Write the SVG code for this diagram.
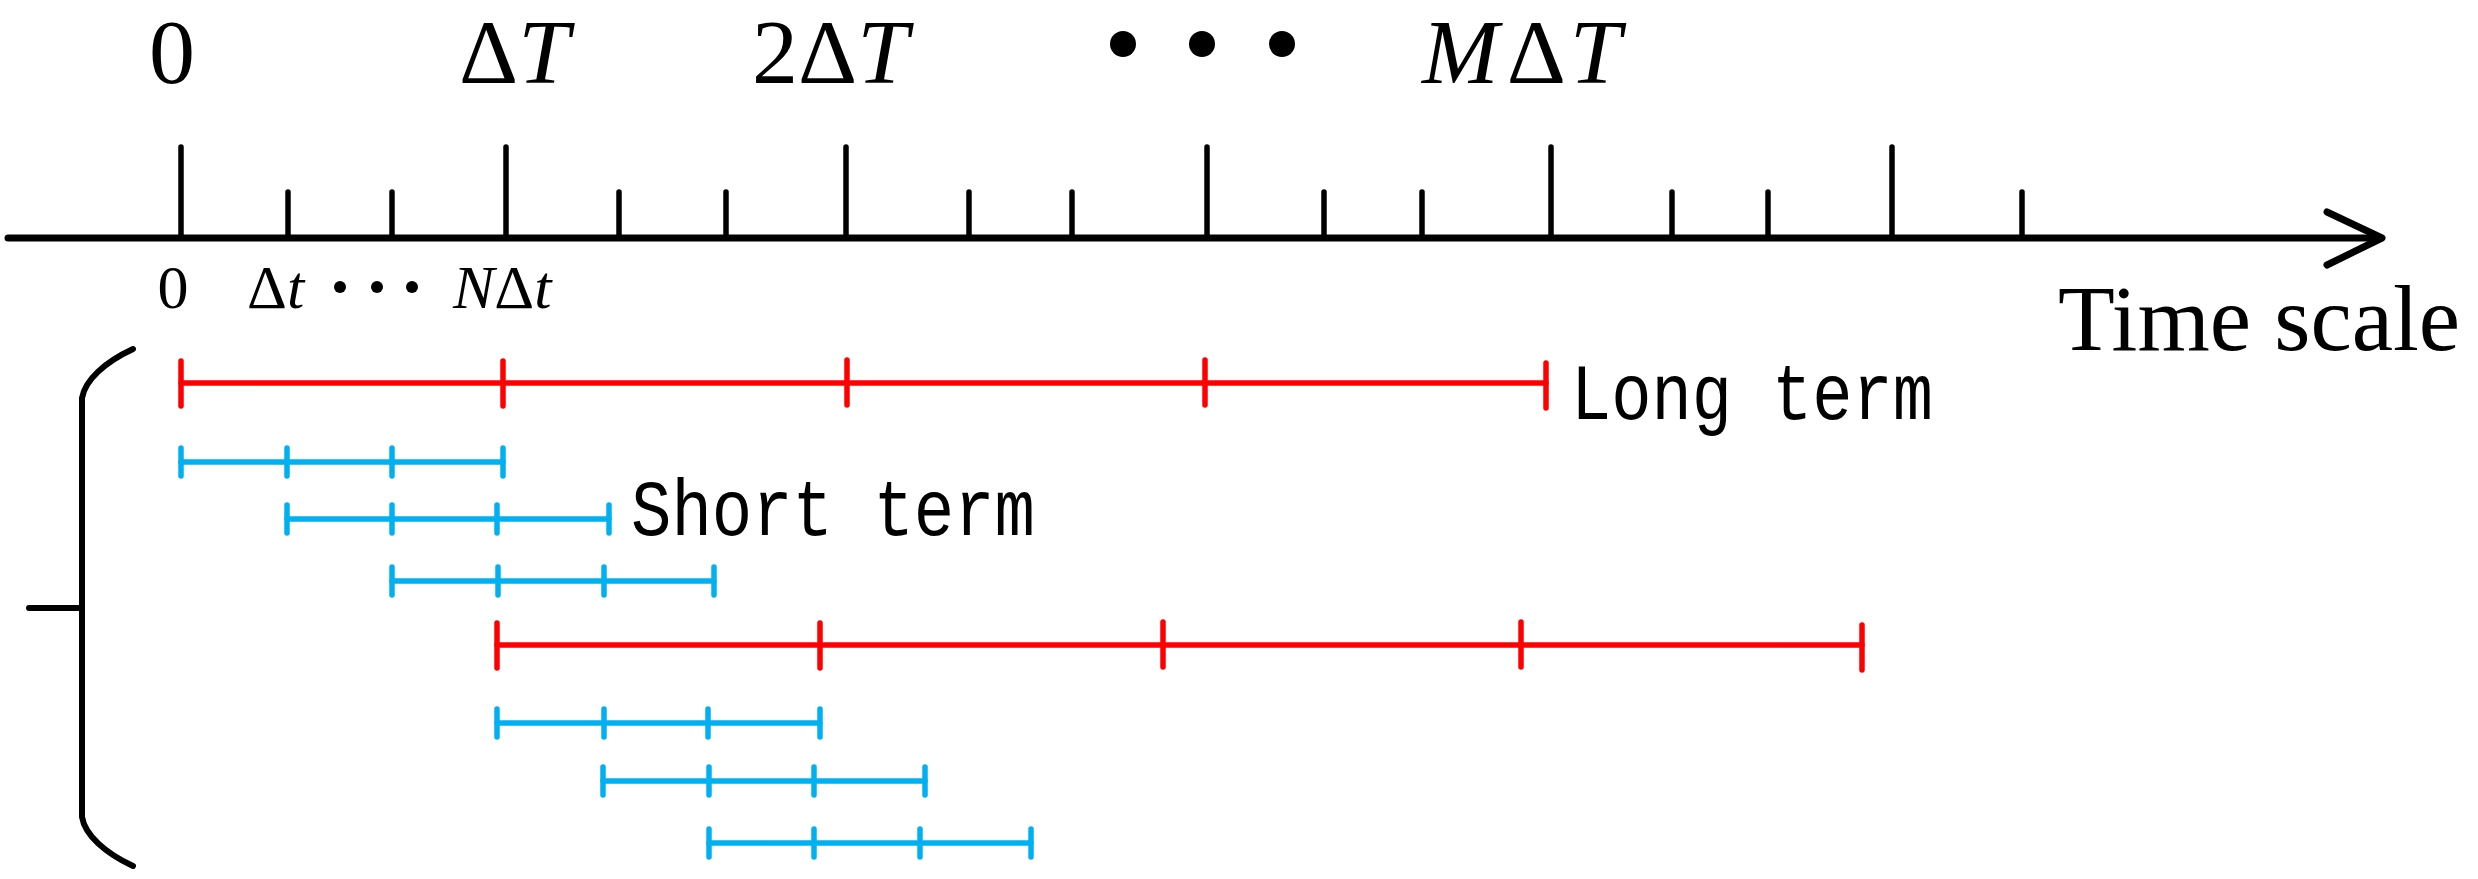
<svg xmlns="http://www.w3.org/2000/svg" width="2478" height="879" viewBox="0 0 2478 879">
<style>
.ax{stroke:#000;stroke-width:7;stroke-linecap:round;fill:none}
.tk{stroke:#000;stroke-width:5.5;stroke-linecap:round}
.red{stroke:#FF0000;stroke-width:5.5;stroke-linecap:round;fill:none}
.blue{stroke:#00B0F0;stroke-width:5.5;stroke-linecap:round;fill:none}
.br{stroke:#000;stroke-width:6;stroke-linecap:round;fill:none}
.big{font-family:"Liberation Serif","Times New Roman",serif;font-size:92px;fill:#000}
.sm{font-family:"Liberation Serif","Times New Roman",serif;font-size:62px;fill:#000}
.ts{font-family:"Liberation Serif","Times New Roman",serif;font-size:93px;fill:#000}
.mono{font-family:"Liberation Mono","Courier New",monospace;font-size:80px;fill:#000}
.it{font-style:italic}
</style>
<rect width="2478" height="879" fill="#fff"/>

<g id="axis">
<line class="ax" x1="8" y1="238" x2="2380" y2="238"/>
<polyline class="ax" points="2327,212 2382,238 2327,265" stroke-linejoin="round"/>
<g id="big-ticks">
<line class="tk" x1="181" y1="147" x2="181" y2="238"/>
<line class="tk" x1="506" y1="147" x2="506" y2="238"/>
<line class="tk" x1="846" y1="147" x2="846" y2="238"/>
<line class="tk" x1="1207" y1="147" x2="1207" y2="238"/>
<line class="tk" x1="1551" y1="147" x2="1551" y2="238"/>
<line class="tk" x1="1892" y1="147" x2="1892" y2="238"/>
</g>
<g id="small-ticks">
<line class="tk" x1="288" y1="192" x2="288" y2="238"/>
<line class="tk" x1="392" y1="192" x2="392" y2="238"/>
<line class="tk" x1="619" y1="192" x2="619" y2="238"/>
<line class="tk" x1="726" y1="192" x2="726" y2="238"/>
<line class="tk" x1="969" y1="192" x2="969" y2="238"/>
<line class="tk" x1="1072" y1="192" x2="1072" y2="238"/>
<line class="tk" x1="1324" y1="192" x2="1324" y2="238"/>
<line class="tk" x1="1422" y1="192" x2="1422" y2="238"/>
<line class="tk" x1="1672" y1="192" x2="1672" y2="238"/>
<line class="tk" x1="1768" y1="192" x2="1768" y2="238"/>
<line class="tk" x1="2022" y1="192" x2="2022" y2="238"/>
</g>
</g>

<g id="top-labels">
<text class="big" x="172" y="83" text-anchor="middle">0</text>
<text class="big" x="459" y="83">Δ<tspan class="it">T</tspan></text>
<text class="big" x="752" y="83">2Δ<tspan class="it">T</tspan></text>
<circle cx="1123" cy="44" r="13" fill="#000"/>
<circle cx="1202" cy="44" r="13" fill="#000"/>
<circle cx="1282" cy="44" r="13" fill="#000"/>
<text class="big" x="1422" y="83"><tspan class="it">M</tspan><tspan dx="8">Δ</tspan><tspan class="it" dx="4">T</tspan></text>
</g>

<g id="bottom-labels">
<text class="sm" x="173" y="308" text-anchor="middle">0</text>
<text class="sm" x="247" y="308">Δ<tspan class="it">t</tspan></text>
<circle cx="340" cy="287" r="6" fill="#000"/>
<circle cx="377" cy="287" r="6" fill="#000"/>
<circle cx="412" cy="287" r="6" fill="#000"/>
<text class="sm" x="453" y="308"><tspan class="it">N</tspan>Δ<tspan class="it">t</tspan></text>
</g>

<g id="time-scale">
<text class="ts" x="2058" y="350">Time scale</text>
</g>

<g id="brace">
<path class="br" d="M133,349 C105,362 85,380 82,398 L82,817 C85,835 105,853 133,866"/>
<line class="br" x1="29" y1="608" x2="82" y2="608"/>
</g>

<g id="long-term-1">
<line class="red" x1="181" y1="383" x2="1546" y2="383"/>
<line class="red" x1="181" y1="361" x2="181" y2="406"/>
<line class="red" x1="503" y1="361" x2="503" y2="406"/>
<line class="red" x1="847" y1="360" x2="847" y2="405"/>
<line class="red" x1="1205" y1="360" x2="1205" y2="405"/>
<line class="red" x1="1546" y1="363" x2="1546" y2="408"/>
</g>

<g id="long-term-2">
<line class="red" x1="497" y1="645" x2="1862" y2="645"/>
<line class="red" x1="497" y1="623" x2="497" y2="668"/>
<line class="red" x1="820" y1="623" x2="820" y2="668"/>
<line class="red" x1="1163" y1="622" x2="1163" y2="667"/>
<line class="red" x1="1521" y1="622" x2="1521" y2="667"/>
<line class="red" x1="1862" y1="625" x2="1862" y2="670"/>
</g>

<g id="short-term-rows">
<g id="st1">
<line class="blue" x1="181" y1="462" x2="503" y2="462"/>
<line class="blue" x1="181" y1="448" x2="181" y2="476"/>
<line class="blue" x1="287" y1="448" x2="287" y2="476"/>
<line class="blue" x1="392" y1="448" x2="392" y2="476"/>
<line class="blue" x1="503" y1="448" x2="503" y2="476"/>
</g>
<g id="st2">
<line class="blue" x1="287" y1="519" x2="609" y2="519"/>
<line class="blue" x1="287" y1="505" x2="287" y2="533"/>
<line class="blue" x1="392" y1="505" x2="392" y2="533"/>
<line class="blue" x1="497" y1="505" x2="497" y2="533"/>
<line class="blue" x1="609" y1="505" x2="609" y2="533"/>
</g>
<g id="st3">
<line class="blue" x1="392" y1="581" x2="714" y2="581"/>
<line class="blue" x1="392" y1="567" x2="392" y2="595"/>
<line class="blue" x1="498" y1="567" x2="498" y2="595"/>
<line class="blue" x1="604" y1="567" x2="604" y2="595"/>
<line class="blue" x1="714" y1="567" x2="714" y2="595"/>
</g>
<g id="st4">
<line class="blue" x1="497" y1="723" x2="820" y2="723"/>
<line class="blue" x1="497" y1="709" x2="497" y2="737"/>
<line class="blue" x1="604" y1="709" x2="604" y2="737"/>
<line class="blue" x1="708" y1="709" x2="708" y2="737"/>
<line class="blue" x1="820" y1="709" x2="820" y2="737"/>
</g>
<g id="st5">
<line class="blue" x1="603" y1="781" x2="925" y2="781"/>
<line class="blue" x1="603" y1="767" x2="603" y2="795"/>
<line class="blue" x1="709" y1="767" x2="709" y2="795"/>
<line class="blue" x1="814" y1="767" x2="814" y2="795"/>
<line class="blue" x1="925" y1="767" x2="925" y2="795"/>
</g>
<g id="st6">
<line class="blue" x1="709" y1="843" x2="1031" y2="843"/>
<line class="blue" x1="709" y1="829" x2="709" y2="857"/>
<line class="blue" x1="814" y1="829" x2="814" y2="857"/>
<line class="blue" x1="920" y1="829" x2="920" y2="857"/>
<line class="blue" x1="1031" y1="829" x2="1031" y2="857"/>
</g>
</g>

<g id="labels">
<text class="mono" x="1571" y="419" textLength="362" lengthAdjust="spacingAndGlyphs">Long term</text>
<text class="mono" x="631" y="535" textLength="404" lengthAdjust="spacingAndGlyphs">Short term</text>
</g>
</svg>
